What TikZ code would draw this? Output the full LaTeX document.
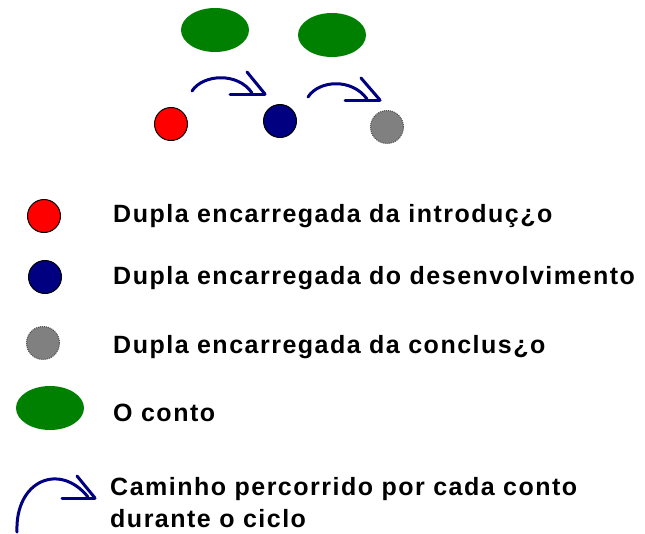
\documentclass[tikz,border=0pt]{standalone}
\usepackage{fontspec}
\setmainfont{Liberation Sans}[LetterSpace=6]
\usetikzlibrary{shapes.geometric}

\begin{document}
\begin{tikzpicture}[
    x=1pt, y=-1pt,
    dupla/.style={circle, draw=black, line width=1pt, minimum size=33pt, inner sep=0pt},
    conto/.style={ellipse, fill=green!50!black, minimum width=68pt,
                  minimum height=44pt, inner sep=0pt},
    legenda/.style={anchor=base west, inner sep=0pt,
                    font=\fontsize{25}{30}\selectfont\bfseries},
    caminho/.style={draw=blue!50!black, line width=3pt, line cap=round}
  ]
  \useasboundingbox (0,0) rectangle (645,533);

  % os contos
  \node[conto] (C1) at (215,30) {};
  \node[conto] (C2) at (332,35) {};

  % as duplas
  \node[dupla, fill=red] (D1) at (171,124) {};
  \node[dupla, fill=blue!50!black] (D2) at (280,121) {};
  \node[dupla, fill=gray, draw=black!70, dash pattern=on 1pt off 1pt] (D3) at (387,127) {};

  % caminhos
  \coordinate (A1s) at (192,91);
  \coordinate (A1e) at (252,93);
  \coordinate (A1t) at (265,94);
  \draw[caminho] (A1s) .. controls (203,74) and (238,72) .. (A1e);
  \draw[caminho] (A1t) -- ++(-35,0);
  \draw[caminho] (A1t) -- ++(-18,-22);

  \coordinate (A2s) at (308,97);
  \coordinate (A2e) at (367,99);
  \coordinate (A2t) at (380,100);
  \draw[caminho] (A2s) .. controls (319,80) and (352,78) .. (A2e);
  \draw[caminho] (A2t) -- ++(-35,0);
  \draw[caminho] (A2t) -- ++(-19,-22);

  % legenda
  \node[dupla, fill=red] (L1) at (44,216) {};
  \node[dupla, fill=blue!50!black] (L2) at (45,277) {};
  \node[dupla, fill=gray, draw=black!70, dash pattern=on 1pt off 1pt] (L3) at (43,343) {};
  \node[conto] (L4) at (50,408) {};

  \coordinate (L5s) at (17,532);
  \coordinate (L5e) at (88,497);
  \coordinate (L5t) at (95,498);
  \draw[caminho] (L5s) .. controls (15,480) and (60,462) .. (L5e);
  \draw[caminho] (L5t) -- ++(-33,0);
  \draw[caminho] (L5t) -- ++(-18,-22);

  \node[legenda] (T1) at (113,222) {Dupla encarregada da introduç¿o};
  \node[legenda] (T2) at (113,284) {Dupla encarregada do desenvolvimento};
  \node[legenda] (T3) at (113,353) {Dupla encarregada da conclus¿o};
  \node[legenda] (T4) at (113,421) {O conto};
  \node[legenda] (T5) at (110,495) {Caminho percorrido por cada conto};
  \node[legenda] (T6) at (110,527) {durante o ciclo};
\end{tikzpicture}
\end{document}
